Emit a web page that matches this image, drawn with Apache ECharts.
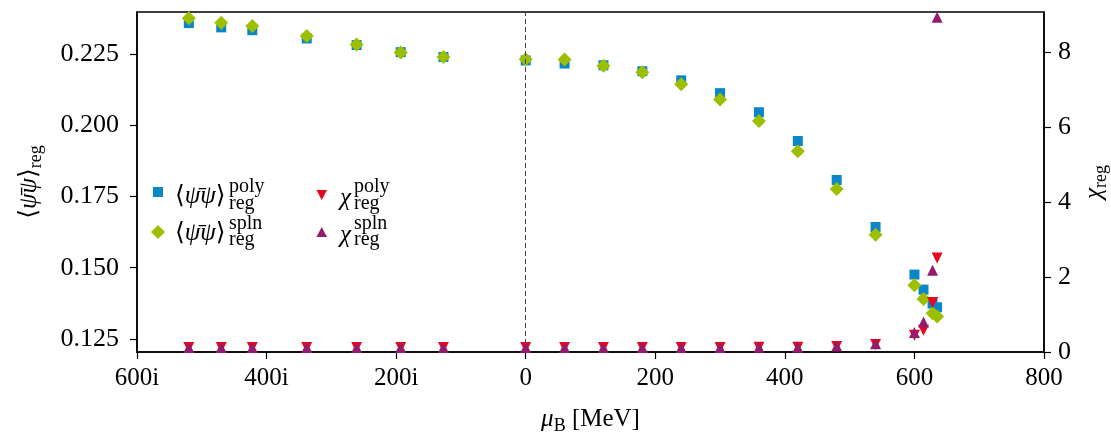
<!DOCTYPE html>
<html><head><meta charset="utf-8">
<script src="https://cdn.jsdelivr.net/npm/echarts@6/dist/echarts.min.js"></script>
<style>html,body{margin:0;padding:0;background:#fff}#c{width:1111px;height:432px}</style>
</head><body><div id="c"></div>
<script>
// mu_B in MeV (negative = imaginary chemical potential, labelled "i")
const muB = [-520,-470,-422,-338,-261,-193,-127,0,60,120,180,240,300,360,420,480,540,600,614,628,635];
const pbpPoly = [0.2359,0.2344,0.2334,0.2305,0.2282,0.2257,0.2240,0.2228,0.2217,0.2211,0.2190,0.2158,0.2113,0.2046,0.1945,0.1808,0.1643,0.1476,0.1423,0.1374,0.1361];
const pbpSpln = [0.2376,0.2360,0.2349,0.2314,0.2284,0.2256,0.2240,0.2232,0.2231,0.2209,0.2186,0.2144,0.2091,0.2015,0.1909,0.1776,0.1616,0.1438,0.1390,0.1340,0.1329];
const chiPoly = [0.12,0.12,0.12,0.12,0.12,0.12,0.12,0.12,0.12,0.12,0.12,0.12,0.12,0.13,0.13,0.15,0.20,0.45,0.58,1.32,2.51];
const chiSpln = [0.12,0.12,0.12,0.12,0.12,0.12,0.12,0.12,0.12,0.12,0.12,0.12,0.12,0.13,0.13,0.16,0.22,0.52,0.80,2.18,8.94];
const leftTicks = [0.125,0.150,0.175,0.200,0.225];
const rightTicks = [0,2,4,6,8];

const FONT = '"Liberation Serif", "DejaVu Serif", serif';
const C_BLUE = '#0a86c9', C_GREEN = '#9cc000', C_RED = '#e6081e', C_PURPLE = '#941c6e';
const DOWN = 'path://M0,0L10,0L5,10Z';

const pairs = (ys) => muB.map((x, i) => [x, ys[i]]);

const chart = echarts.init(document.getElementById('c'), null, {renderer: 'canvas'});

const baseRich = {
  b: {fontFamily: FONT, fontSize: 25, color: '#000', lineHeight: 32},
  i: {fontFamily: FONT, fontSize: 25, fontStyle: 'italic', color: '#000', lineHeight: 32},
  s: {fontFamily: FONT, fontSize: 18, color: '#000', lineHeight: 18, verticalAlign: 'bottom'}
};
const gRich = {
  b: {fontFamily: FONT, fontSize: 25, fill: '#000'},
  i: {fontFamily: FONT, fontSize: 25, fontStyle: 'italic', fill: '#000'}
};

function txt(x, y, text, size, italic) {
  return {type: 'text', x: x, y: y, z: 100,
    style: {text: text, fontFamily: FONT, fontSize: size, fontStyle: italic ? 'italic' : 'normal',
            fill: '#000', verticalAlign: 'middle', align: 'left'}};
}
function richTxt(x, y, text) {
  return {type: 'text', x: x, y: y, z: 100,
    style: {text: text, rich: gRich, fontFamily: FONT, fontSize: 25, fill: '#000', verticalAlign: 'middle', align: 'left'}};
}

const graphics = [
  // legend symbols
  {type: 'rect', shape: {x: 153, y: 187, width: 10, height: 10}, style: {fill: C_BLUE}, z: 100},
  {type: 'polygon', shape: {points: [[158,225],[165,232],[158,239],[151,232]]}, style: {fill: C_GREEN}, z: 100},
  {type: 'polygon', shape: {points: [[316.5,190],[327,190],[321.7,200]]}, style: {fill: C_RED}, z: 100},
  {type: 'polygon', shape: {points: [[321.7,227],[327,237],[316.5,237]]}, style: {fill: C_PURPLE}, z: 100},
  // legend texts
  richTxt(175, 196, '{b|⟨}{i|ψ\u0304ψ}{b|⟩}'),
  txt(229, 187, 'poly', 20, false), txt(229, 204, 'reg', 20, false),
  richTxt(175, 233, '{b|⟨}{i|ψ\u0304ψ}{b|⟩}'),
  txt(229, 224, 'spln', 20, false), txt(229, 240, 'reg', 20, false),
  txt(340, 198, 'χ', 25, true), txt(354, 187, 'poly', 20, false), txt(354, 204, 'reg', 20, false),
  txt(340, 235, 'χ', 25, true), txt(354, 224, 'spln', 20, false), txt(354, 240, 'reg', 20, false)
];

chart.setOption({
  animation: false,
  backgroundColor: '#fff',
  grid: {left: 137, right: 67, top: 12, bottom: 80, outerBoundsMode: 'none', containLabel: false,
         show: true, borderColor: '#000', borderWidth: 1.5, backgroundColor: 'transparent'},
  xAxis: {
    type: 'value', min: -600, max: 800, interval: 200,
    name: '{i|μ}{s|B}{b| [MeV]}', nameLocation: 'middle', nameGap: 51,
    nameTextStyle: {rich: baseRich},
    axisLine: {show: true, onZero: false, lineStyle: {color: '#000', width: 1.5}},
    axisTick: {show: true, inside: false, length: 7, lineStyle: {color: '#000', width: 1.2}},
    splitLine: {show: false},
    axisLabel: {margin: 14, color: '#000', fontFamily: FONT, fontSize: 25,
      formatter: (v) => v < 0 ? (-v) + 'i' : String(v)}
  },
  yAxis: [{
    type: 'value', min: 0.1204, max: 0.2398, position: 'left',
    name: '{b|⟨}{i|ψ\u0304ψ}{b|⟩}{s|reg}', nameLocation: 'middle', nameRotate: 90, nameGap: 92,
    nameTextStyle: {rich: baseRich},
    axisLine: {show: true, onZero: false, lineStyle: {color: '#000', width: 1.5}},
    axisTick: {show: true, length: 7, customValues: leftTicks, lineStyle: {color: '#000', width: 1.2}},
    splitLine: {show: false},
    axisLabel: {margin: 18, color: '#000', fontFamily: FONT, fontSize: 26, customValues: leftTicks,
      formatter: (v) => v.toFixed(3)}
  }, {
    type: 'value', min: 0, max: 9.08, position: 'right',
    name: '{i|χ}{s|reg}', nameLocation: 'middle', nameRotate: 90, nameGap: 34,
    nameTextStyle: {rich: baseRich},
    axisLine: {show: true, onZero: false, lineStyle: {color: '#000', width: 1.5}},
    axisTick: {show: true, length: 7, customValues: rightTicks, lineStyle: {color: '#000', width: 1.2}},
    splitLine: {show: false},
    axisLabel: {margin: 14, color: '#000', fontFamily: FONT, fontSize: 26, customValues: rightTicks}
  }],
  series: [
    {name: 'pbp poly', type: 'scatter', yAxisIndex: 0, symbol: 'rect', symbolSize: 10,
     itemStyle: {color: C_BLUE, opacity: 1}, data: pairs(pbpPoly), z: 2,
     markLine: {silent: true, symbol: 'none', label: {show: false},
       lineStyle: {color: '#444', type: [5, 3], width: 1}, data: [{xAxis: 0}]}},
    {name: 'pbp spln', type: 'scatter', yAxisIndex: 0, symbol: 'diamond', symbolSize: 14,
     itemStyle: {color: C_GREEN, opacity: 1}, data: pairs(pbpSpln), z: 3},
    {name: 'chi poly', type: 'scatter', yAxisIndex: 1, symbol: DOWN, symbolSize: 11,
     itemStyle: {color: C_RED, opacity: 1}, data: pairs(chiPoly), z: 4},
    {name: 'chi spln', type: 'scatter', yAxisIndex: 1, symbol: 'triangle', symbolSize: 11,
     itemStyle: {color: C_PURPLE, opacity: 1}, data: pairs(chiSpln), z: 5}
  ],
  graphic: graphics
});
</script></body></html>
